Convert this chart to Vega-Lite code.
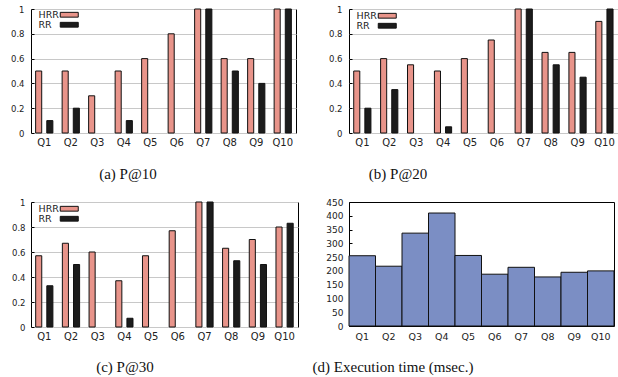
{
  "$schema": "https://vega.github.io/schema/vega-lite/v6.json",
  "padding": {"left": 9, "top": 4, "right": 0, "bottom": 0},
  "config": {
    "view": {"stroke": "#000", "strokeWidth": 1},
    "axis": {"labelFont": "DejaVu Sans", "labelFontSize": 8.5, "labelColor": "#222", "domain": false, "title": null},
    "axisY": {"ticks": true, "tickSize": -3, "tickColor": "#000"},
    "title": {"font": "Liberation Serif", "fontSize": 15, "fontWeight": "normal", "color": "#111", "orient": "bottom"},
    "legend": {"labelFont": "DejaVu Sans", "labelFontSize": 9.5, "labelColor": "#222"}
  },
  "datasets": {
    "p10": [
      {"q": "Q1", "method": "HRR", "value": 0.5}, {"q": "Q1", "method": "RR", "value": 0.1},
      {"q": "Q2", "method": "HRR", "value": 0.5}, {"q": "Q2", "method": "RR", "value": 0.2},
      {"q": "Q3", "method": "HRR", "value": 0.3}, {"q": "Q3", "method": "RR", "value": 0},
      {"q": "Q4", "method": "HRR", "value": 0.5}, {"q": "Q4", "method": "RR", "value": 0.1},
      {"q": "Q5", "method": "HRR", "value": 0.6}, {"q": "Q5", "method": "RR", "value": 0},
      {"q": "Q6", "method": "HRR", "value": 0.8}, {"q": "Q6", "method": "RR", "value": 0},
      {"q": "Q7", "method": "HRR", "value": 1.0}, {"q": "Q7", "method": "RR", "value": 1.0},
      {"q": "Q8", "method": "HRR", "value": 0.6}, {"q": "Q8", "method": "RR", "value": 0.5},
      {"q": "Q9", "method": "HRR", "value": 0.6}, {"q": "Q9", "method": "RR", "value": 0.4},
      {"q": "Q10", "method": "HRR", "value": 1.0}, {"q": "Q10", "method": "RR", "value": 1.0}
    ],
    "p20": [
      {"q": "Q1", "method": "HRR", "value": 0.5}, {"q": "Q1", "method": "RR", "value": 0.2},
      {"q": "Q2", "method": "HRR", "value": 0.6}, {"q": "Q2", "method": "RR", "value": 0.35},
      {"q": "Q3", "method": "HRR", "value": 0.55}, {"q": "Q3", "method": "RR", "value": 0},
      {"q": "Q4", "method": "HRR", "value": 0.5}, {"q": "Q4", "method": "RR", "value": 0.05},
      {"q": "Q5", "method": "HRR", "value": 0.6}, {"q": "Q5", "method": "RR", "value": 0},
      {"q": "Q6", "method": "HRR", "value": 0.75}, {"q": "Q6", "method": "RR", "value": 0},
      {"q": "Q7", "method": "HRR", "value": 1.0}, {"q": "Q7", "method": "RR", "value": 1.0},
      {"q": "Q8", "method": "HRR", "value": 0.65}, {"q": "Q8", "method": "RR", "value": 0.55},
      {"q": "Q9", "method": "HRR", "value": 0.65}, {"q": "Q9", "method": "RR", "value": 0.45},
      {"q": "Q10", "method": "HRR", "value": 0.9}, {"q": "Q10", "method": "RR", "value": 1.0}
    ],
    "p30": [
      {"q": "Q1", "method": "HRR", "value": 0.57}, {"q": "Q1", "method": "RR", "value": 0.33},
      {"q": "Q2", "method": "HRR", "value": 0.67}, {"q": "Q2", "method": "RR", "value": 0.5},
      {"q": "Q3", "method": "HRR", "value": 0.6}, {"q": "Q3", "method": "RR", "value": 0},
      {"q": "Q4", "method": "HRR", "value": 0.37}, {"q": "Q4", "method": "RR", "value": 0.07},
      {"q": "Q5", "method": "HRR", "value": 0.57}, {"q": "Q5", "method": "RR", "value": 0},
      {"q": "Q6", "method": "HRR", "value": 0.77}, {"q": "Q6", "method": "RR", "value": 0},
      {"q": "Q7", "method": "HRR", "value": 1.0}, {"q": "Q7", "method": "RR", "value": 1.0},
      {"q": "Q8", "method": "HRR", "value": 0.63}, {"q": "Q8", "method": "RR", "value": 0.53},
      {"q": "Q9", "method": "HRR", "value": 0.7}, {"q": "Q9", "method": "RR", "value": 0.5},
      {"q": "Q10", "method": "HRR", "value": 0.8}, {"q": "Q10", "method": "RR", "value": 0.83}
    ],
    "time": [
      {"q": "Q1", "ms": 255}, {"q": "Q2", "ms": 217}, {"q": "Q3", "ms": 337},
      {"q": "Q4", "ms": 410}, {"q": "Q5", "ms": 256}, {"q": "Q6", "ms": 188},
      {"q": "Q7", "ms": 213}, {"q": "Q8", "ms": 178}, {"q": "Q9", "ms": 195},
      {"q": "Q10", "ms": 200}
    ]
  },
  "resolve": {"legend": {"color": "independent"}},
  "bounds": "flush",
  "columns": 2,
  "spacing": {"row": 69, "column": 51},
  "concat": [
    {
      "width": 265, "height": 124,
      "data": {"name": "p10"},
      "transform": [{"filter": "datum.value > 0"}],
      "title": {"text": "(a)  P@10", "dx": -35.5, "offset": 20},
      "mark": {"type": "bar", "stroke": "#111", "strokeWidth": 1},
      "encoding": {
        "x": {"field": "q", "type": "nominal", "sort": null, "scale": {"domain": ["Q1","Q2","Q3","Q4","Q5","Q6","Q7","Q8","Q9","Q10"], "paddingInner": 0.35, "paddingOuter": 0.175}, "axis": {"labelAngle": 0, "ticks": false, "labelPadding": 4, "labelFontSize": 10}},
        "xOffset": {"field": "method", "type": "nominal", "scale": {"domain": ["HRR", "RR"], "paddingInner": 0.4545, "paddingOuter": 0}},
        "y": {"field": "value", "type": "quantitative", "scale": {"domain": [0, 1]}, "axis": {"values": [0, 0.2, 0.4, 0.6, 0.8, 1], "format": "~g", "grid": true, "gridColor": "#c8c8c8", "labelPadding": 10}},
        "color": {"field": "method", "type": "nominal", "scale": {"domain": ["HRR", "RR"], "range": ["#e8948a", "#1c1c1c"]},
          "legend": {"title": null, "orient": "none", "legendX": 33.5, "legendY": 1, "padding": 0, "symbolType": "M-2.25,-0.6H2.25V0.6H-2.25Z", "symbolSize": 64, "symbolStrokeColor": "#111", "symbolStrokeWidth": 1, "symbolOpacity": 1, "labelAlign": "left", "labelOffset": -35.5, "rowPadding": -2}}
      }
    },
    {
      "width": 269, "height": 124,
      "data": {"name": "p20"},
      "transform": [{"filter": "datum.value > 0"}],
      "title": {"text": "(b)  P@20", "dx": -85.5, "offset": 20},
      "mark": {"type": "bar", "stroke": "#111", "strokeWidth": 1},
      "encoding": {
        "x": {"field": "q", "type": "nominal", "sort": null, "scale": {"domain": ["Q1","Q2","Q3","Q4","Q5","Q6","Q7","Q8","Q9","Q10"], "paddingInner": 0.35, "paddingOuter": 0.175}, "axis": {"labelAngle": 0, "ticks": false, "labelPadding": 4, "labelFontSize": 10}},
        "xOffset": {"field": "method", "type": "nominal", "scale": {"domain": ["HRR", "RR"], "paddingInner": 0.4545, "paddingOuter": 0}},
        "y": {"field": "value", "type": "quantitative", "scale": {"domain": [0, 1]}, "axis": {"values": [0, 0.2, 0.4, 0.6, 0.8, 1], "format": "~g", "grid": true, "gridColor": "#c8c8c8", "labelPadding": 10}},
        "color": {"field": "method", "type": "nominal", "scale": {"domain": ["HRR", "RR"], "range": ["#e8948a", "#1c1c1c"]},
          "legend": {"title": null, "orient": "none", "legendX": 33.5, "legendY": 2, "padding": 0, "symbolType": "M-2.25,-0.6H2.25V0.6H-2.25Z", "symbolSize": 64, "symbolStrokeColor": "#111", "symbolStrokeWidth": 1, "symbolOpacity": 1, "labelAlign": "left", "labelOffset": -35.5, "rowPadding": -2}}
      }
    },
    {
      "width": 267, "height": 125,
      "data": {"name": "p30"},
      "transform": [{"filter": "datum.value > 0"}],
      "title": {"text": "(c)  P@30", "dx": -39.5, "offset": 19},
      "mark": {"type": "bar", "stroke": "#111", "strokeWidth": 1},
      "encoding": {
        "x": {"field": "q", "type": "nominal", "sort": null, "scale": {"domain": ["Q1","Q2","Q3","Q4","Q5","Q6","Q7","Q8","Q9","Q10"], "paddingInner": 0.35, "paddingOuter": 0.175}, "axis": {"labelAngle": 0, "ticks": false, "labelPadding": 4, "labelFontSize": 10}},
        "xOffset": {"field": "method", "type": "nominal", "scale": {"domain": ["HRR", "RR"], "paddingInner": 0.4545, "paddingOuter": 0}},
        "y": {"field": "value", "type": "quantitative", "scale": {"domain": [0, 1]}, "axis": {"values": [0, 0.2, 0.4, 0.6, 0.8, 1], "format": "~g", "grid": true, "gridColor": "#c8c8c8", "labelPadding": 9}},
        "color": {"field": "method", "type": "nominal", "scale": {"domain": ["HRR", "RR"], "range": ["#e8948a", "#1c1c1c"]},
          "legend": {"title": null, "orient": "none", "legendX": 33.5, "legendY": 2, "padding": 0, "symbolType": "M-2.25,-0.6H2.25V0.6H-2.25Z", "symbolSize": 64, "symbolStrokeColor": "#111", "symbolStrokeWidth": 1, "symbolOpacity": 1, "labelAlign": "left", "labelOffset": -35.5, "rowPadding": -2}}
      }
    },
    {
      "width": 265, "height": 124,
      "data": {"name": "time"},
      "title": {"text": "(d)  Execution time (msec.)", "dx": -88.5, "offset": 19},
      "mark": {"type": "bar", "color": "#7b8ec4", "stroke": "#111", "strokeWidth": 1},
      "encoding": {
        "x": {"field": "q", "type": "nominal", "sort": null, "scale": {"paddingInner": 0, "paddingOuter": 0}, "axis": {"labelAngle": 0, "ticks": false, "labelPadding": 5, "labelFontSize": 9.5}},
        "y": {"field": "ms", "type": "quantitative", "scale": {"domain": [0, 450]}, "axis": {"values": [0, 50, 100, 150, 200, 250, 300, 350, 400, 450], "grid": false, "labelPadding": 9, "labelFontSize": 9}}
      }
    }
  ]
}
